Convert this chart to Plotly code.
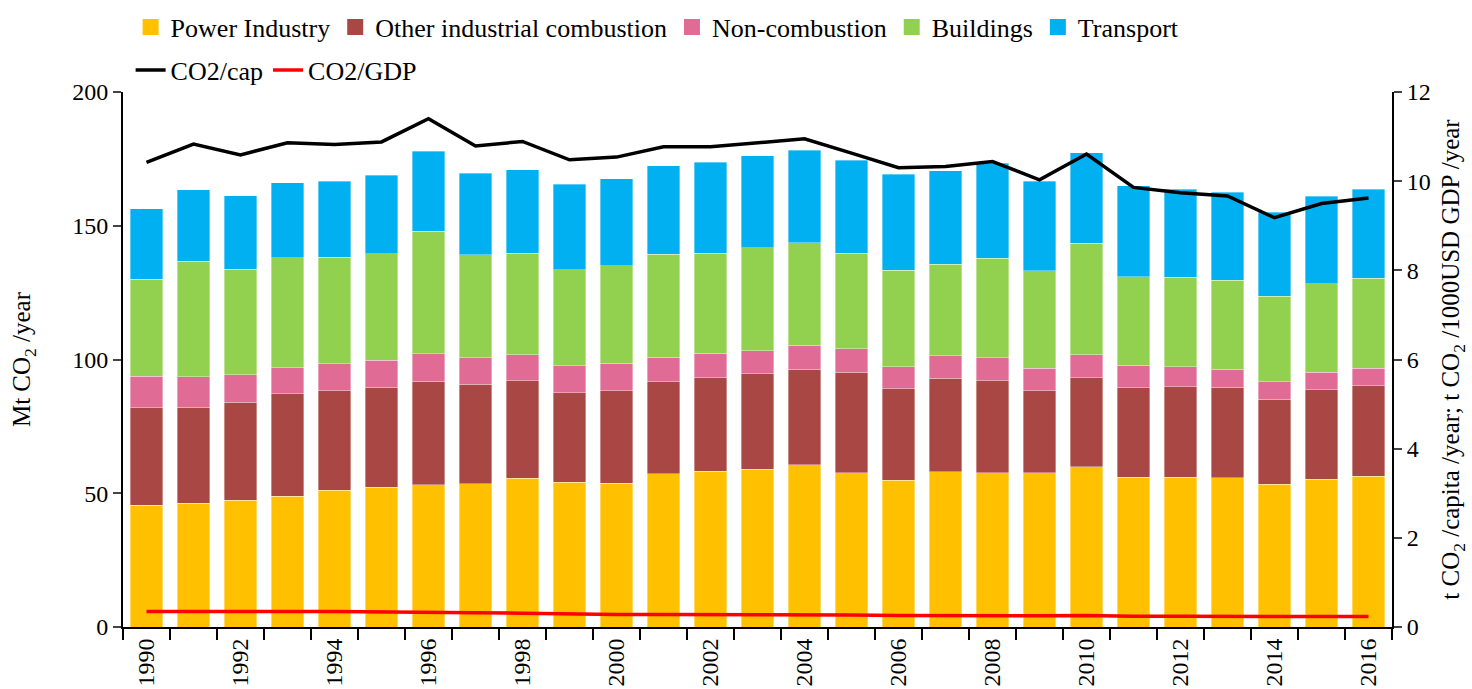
import plotly.graph_objects as go

years = list(range(1990, 2017))

power_industry = [45.6, 46.2, 47.4, 48.9, 51.2, 52.2, 53.2, 53.6, 55.7, 54.2, 53.7, 57.3, 58.2, 59.0,
                  60.6, 57.7, 54.8, 58.1, 57.6, 57.6, 59.9, 56.0, 56.0, 55.8, 53.3, 55.3, 56.3]
other_industrial = [36.4, 36.0, 36.6, 38.3, 37.1, 37.4, 38.6, 37.2, 36.4, 33.3, 34.6, 34.4, 34.9, 35.6,
                    35.8, 37.6, 34.2, 34.9, 34.4, 30.7, 33.2, 33.5, 33.8, 33.8, 31.9, 33.4, 33.9]
non_combustion = [11.7, 11.3, 10.3, 9.7, 10.1, 10.2, 10.4, 9.9, 9.6, 10.2, 10.3, 9.2, 9.3, 8.6,
                  9.0, 8.8, 8.2, 8.4, 8.7, 8.4, 8.6, 8.4, 7.5, 6.7, 6.5, 6.5, 6.5]
buildings = [36.3, 43.3, 39.4, 41.2, 39.8, 39.8, 45.7, 38.5, 38.1, 35.8, 36.4, 38.5, 37.4, 38.6,
             38.2, 35.7, 36.1, 34.3, 37.2, 36.5, 41.7, 33.1, 33.4, 33.3, 31.9, 33.1, 33.7]
transport = [26.4, 26.6, 27.5, 28.0, 28.5, 29.3, 30.0, 30.4, 31.1, 32.1, 32.6, 33.0, 33.9, 34.3,
             34.7, 34.7, 35.9, 34.9, 35.4, 33.5, 33.9, 33.9, 33.0, 33.0, 31.4, 32.8, 33.2]
co2_per_cap = [10.42, 10.83, 10.59, 10.86, 10.82, 10.88, 11.40, 10.79, 10.89, 10.48, 10.54, 10.77,
               10.77, 10.86, 10.95, 10.63, 10.30, 10.33, 10.44, 10.03, 10.61, 9.86, 9.74, 9.67,
               9.18, 9.50, 9.62]
co2_per_gdp = [0.35, 0.355, 0.35, 0.35, 0.345, 0.34, 0.34, 0.32, 0.31, 0.29, 0.28, 0.28, 0.28, 0.28,
               0.28, 0.27, 0.26, 0.255, 0.25, 0.25, 0.26, 0.24, 0.24, 0.24, 0.23, 0.235, 0.235]

tick_years = list(range(1990, 2017, 2))
boundaries = [y - 0.5 for y in range(1990, 2018)]

FONT = "Liberation Serif"

fig = go.Figure()
bar_series = [
    ("Power Industry", power_industry, "#FFC000"),
    ("Other industrial combustion", other_industrial, "#A94744"),
    ("Non-combustion", non_combustion, "#E06C95"),
    ("Buildings", buildings, "#92D050"),
    ("Transport", transport, "#00B0F0"),
]
for name, vals, col in bar_series:
    fig.add_trace(go.Bar(x=years, y=vals, name=name,
                         marker=dict(color=col, line=dict(width=0.6, color="rgba(255,255,255,0.6)")),
                         width=0.7, showlegend=False))
# legend swatches (square markers like the reference)
for name, vals, col in bar_series:
    fig.add_trace(go.Scatter(x=[None], y=[None], name=name, mode="markers",
                             marker=dict(symbol="square", size=26, color=col),
                             legend="legend"))

fig.add_trace(go.Scatter(x=years, y=co2_per_cap, name="CO2/cap", mode="lines",
                         line=dict(color="black", width=3.5), yaxis="y2", legend="legend2"))
fig.add_trace(go.Scatter(x=years, y=co2_per_gdp, name="CO2/GDP", mode="lines",
                         line=dict(color="#FF0000", width=3.5), yaxis="y2", legend="legend2"))

fig.update_layout(
    width=1472, height=689,
    barmode="stack",
    plot_bgcolor="white", paper_bgcolor="white",
    font=dict(family=FONT, size=24, color="black"),
    margin=dict(l=123, r=80, t=92, b=62, autoexpand=False),
    xaxis=dict(
        range=[1989.5, 2016.5], tickmode="array", tickvals=tick_years,
        ticktext=[str(y) for y in tick_years], tickangle=-90,
        ticks="", showline=True, linecolor="black", linewidth=2,
        showgrid=False, zeroline=False, tickfont=dict(size=24),
        minor=dict(tickvals=boundaries, ticks="outside", ticklen=11, tickwidth=2,
                   tickcolor="black", showgrid=False),
    ),
    yaxis=dict(
        range=[0, 200], dtick=50, ticks="outside", ticklen=8, tickwidth=2,
        showline=True, linecolor="black", linewidth=2, showgrid=False, zeroline=False,
        tickfont=dict(size=24),
        title=dict(text="Mt CO<sub>2</sub> /year", font=dict(size=25), standoff=34),
    ),
    yaxis2=dict(
        range=[0, 12], dtick=2, overlaying="y", side="right", ticks="outside", ticklen=8,
        tickwidth=2, showline=True, linecolor="black", linewidth=2, showgrid=False,
        zeroline=False, tickfont=dict(size=24),
        title=dict(text="t CO<sub>2</sub> /capita /year; t CO<sub>2</sub> /1000USD GDP /year",
                   font=dict(size=25), standoff=12),
    ),
    legend=dict(orientation="h", x=0.006, xanchor="left", y=1.1215, yanchor="middle",
                font=dict(size=26), bgcolor="rgba(0,0,0,0)", traceorder="normal",
                itemsizing="trace"),
    legend2=dict(orientation="h", x=0.006, xanchor="left", y=1.041, yanchor="middle",
                 font=dict(size=26), bgcolor="rgba(0,0,0,0)"),
    showlegend=True,
)

fig.write_html("out.html", config={"displayModeBar": False},
               post_script="document.body.style.margin='0';document.body.style.overflow='hidden';")
